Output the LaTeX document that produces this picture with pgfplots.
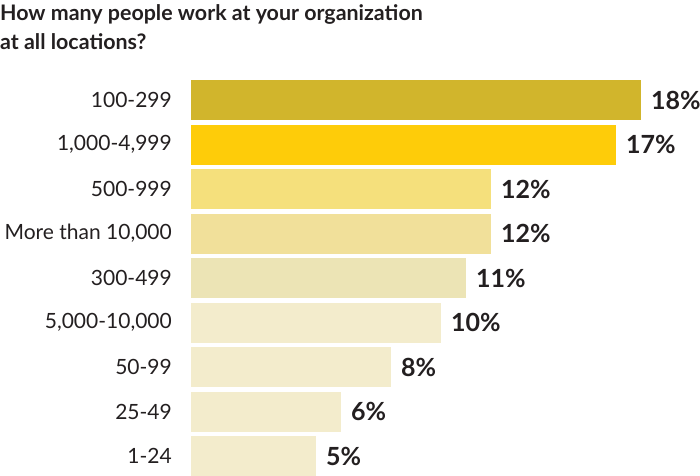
\documentclass[border=0pt]{standalone}
\usepackage{pgfplots}
\pgfplotsset{compat=1.18}
\usepackage{fontspec}
\setmainfont{Lato}
\definecolor{txt}{HTML}{231F20}
\definecolor{c1}{HTML}{D1B52C}
\definecolor{c2}{HTML}{FECC09}
\definecolor{c3}{HTML}{F5E07C}
\definecolor{c4}{HTML}{F1E09A}
\definecolor{c5}{HTML}{ECE4B5}
\definecolor{c6}{HTML}{F3ECCC}
\begin{document}
\begin{tikzpicture}[x=1bp,y=1bp]
\useasboundingbox (0,0) rectangle (700,476);
\coordinate (A) at (191,-2.25);
\node[anchor=base west, inner sep=0, font=\fontsize{21.4bp}{26bp}\selectfont\bfseries, text=txt] at (0,476-21) {How many people work at your organization};
\node[anchor=base west, inner sep=0, font=\fontsize{21.4bp}{26bp}\selectfont\bfseries, text=txt] at (0,476-50) {at all locations?};
\begin{axis}[at={(A)}, anchor=south west, scale only axis,
  width=500bp, height=400.5bp, xmin=0, xmax=20, ymin=-0.5, ymax=8.5,
  y dir=reverse, xbar, bar shift=0pt, bar width=40bp,
  axis line style={draw=none}, xtick=\empty,
  ytick={0,...,8},
  yticklabels={100-299,{1,000-4,999},500-999,{More than 10,000},300-499,{5,000-10,000},50-99,25-49,1-24},
  major tick length=0,
  yticklabel style={font=\fontsize{21bp}{21bp}\selectfont, text=txt, inner sep=0pt, xshift=-19bp, anchor=east},
  /pgf/number format/assume math mode=true,
  point meta=x,
  nodes near coords={\pgfmathprintnumber{\pgfplotspointmeta}\%},
  nodes near coords style={font=\fontsize{25bp}{25bp}\selectfont\bfseries, text=txt, anchor=west, inner sep=0pt, xshift=10bp},
  clip=false]
\addplot[fill=c1, draw=none] coordinates {(18,0)};
\addplot[fill=c2, draw=none] coordinates {(17,1)};
\addplot[fill=c3, draw=none] coordinates {(12,2)};
\addplot[fill=c4, draw=none] coordinates {(12,3)};
\addplot[fill=c5, draw=none] coordinates {(11,4)};
\addplot[fill=c6, draw=none] coordinates {(10,5)};
\addplot[fill=c6, draw=none] coordinates {(8,6)};
\addplot[fill=c6, draw=none] coordinates {(6,7)};
\addplot[fill=c6, draw=none] coordinates {(5,8)};
\end{axis}
\end{tikzpicture}
\end{document}
